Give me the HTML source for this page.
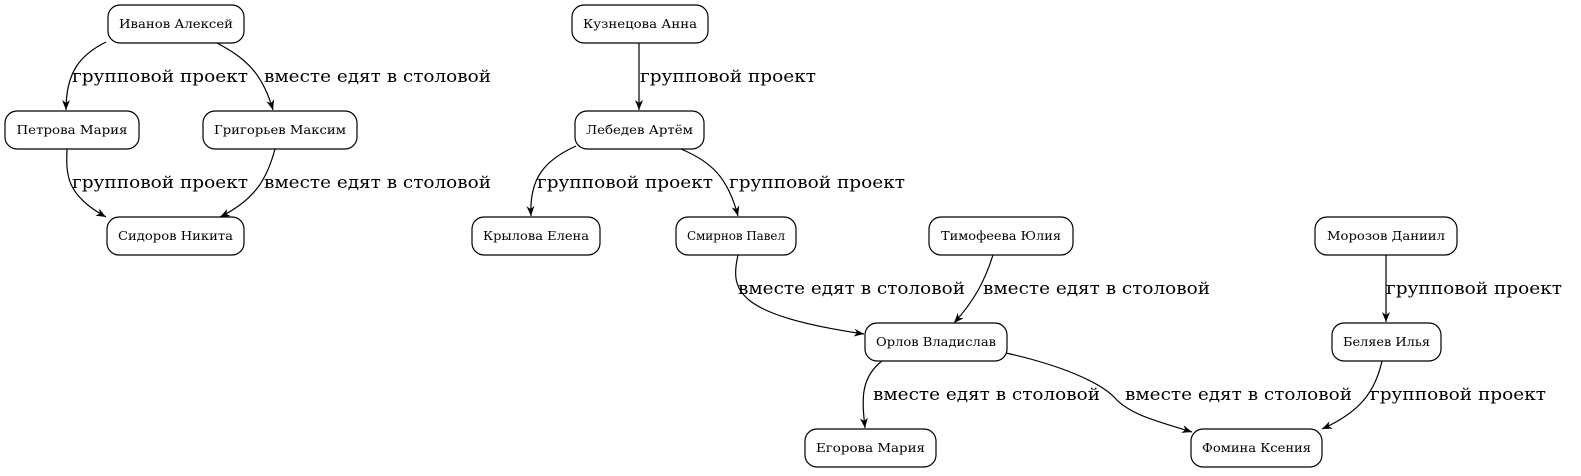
<!DOCTYPE html>
<html><head><meta charset="utf-8"><style>
html,body{margin:0;padding:0;background:#fff;overflow:hidden;width:1581px;height:476px;}
svg{display:block;}
.n{fill:#fff;stroke:#000;stroke-width:1.2;}
.nt{font-family:"DejaVu Serif","Liberation Serif",serif;font-size:12px;text-anchor:middle;}
.e{fill:none;stroke:#000;stroke-width:1.2;}
.l{font-family:"DejaVu Serif","Liberation Serif",serif;font-size:17px;}
</style></head><body>
<svg width="1581" height="476" viewBox="0 0 1581 476" xmlns="http://www.w3.org/2000/svg">
<defs>
<marker id="a" markerWidth="12" markerHeight="10" refX="10" refY="4" orient="auto" markerUnits="userSpaceOnUse">
<path d="M0,0 L10,4 L0,8 L3,4 z" fill="#000"/>
</marker>
</defs>
<path class="e" marker-end="url(#a)" d="M106,42 C80,55 66,72 66,110"/>
<path class="e" marker-end="url(#a)" d="M217,43 C245,58 262,72 273,110"/>
<path class="e" marker-end="url(#a)" d="M67,149 C66,175 66,195 106,217"/>
<path class="e" marker-end="url(#a)" d="M275,149 C268,175 258,198 220,217"/>
<path class="e" marker-end="url(#a)" d="M639,43 L639,110"/>
<path class="e" marker-end="url(#a)" d="M576,146 C545,160 529,178 531,216"/>
<path class="e" marker-end="url(#a)" d="M681,149 C712,162 728,178 738,216"/>
<path class="e" marker-end="url(#a)" d="M738,255 C730,290 735,315 864,334"/>
<path class="e" marker-end="url(#a)" d="M993,255 C985,280 975,300 954,323"/>
<path class="e" marker-end="url(#a)" d="M1386,255 L1386,322"/>
<path class="e" marker-end="url(#a)" d="M882,361 C860,378 862,400 865,428"/>
<path class="e" marker-end="url(#a)" d="M1006,353 C1060,365 1100,382 1115,398 C1130,415 1160,422 1192,432"/>
<path class="e" marker-end="url(#a)" d="M1382,361 C1375,392 1360,412 1322,429"/>
<g class="l">
<text x="72" y="82" textLength="176" lengthAdjust="spacingAndGlyphs">групповой проект</text>
<text x="264" y="82" textLength="227" lengthAdjust="spacingAndGlyphs">вместе едят в столовой</text>
<text x="72" y="188" textLength="176" lengthAdjust="spacingAndGlyphs">групповой проект</text>
<text x="264" y="188" textLength="227" lengthAdjust="spacingAndGlyphs">вместе едят в столовой</text>
<text x="640" y="82" textLength="176" lengthAdjust="spacingAndGlyphs">групповой проект</text>
<text x="537" y="188" textLength="176" lengthAdjust="spacingAndGlyphs">групповой проект</text>
<text x="729" y="188" textLength="176" lengthAdjust="spacingAndGlyphs">групповой проект</text>
<text x="738" y="294" textLength="227" lengthAdjust="spacingAndGlyphs">вместе едят в столовой</text>
<text x="983" y="294" textLength="227" lengthAdjust="spacingAndGlyphs">вместе едят в столовой</text>
<text x="1386" y="294" textLength="176" lengthAdjust="spacingAndGlyphs">групповой проект</text>
<text x="873" y="400" textLength="227" lengthAdjust="spacingAndGlyphs">вместе едят в столовой</text>
<text x="1125" y="400" textLength="227" lengthAdjust="spacingAndGlyphs">вместе едят в столовой</text>
<text x="1370" y="400" textLength="176" lengthAdjust="spacingAndGlyphs">групповой проект</text>
</g>
<rect class="n" x="108" y="5" width="136" height="38" rx="12"/><text class="nt" x="176" y="28" textLength="114" lengthAdjust="spacingAndGlyphs">Иванов Алексей</text>
<rect class="n" x="5" y="111" width="134" height="38" rx="12"/><text class="nt" x="72" y="134" textLength="111" lengthAdjust="spacingAndGlyphs">Петрова Мария</text>
<rect class="n" x="203" y="111" width="154" height="38" rx="12"/><text class="nt" x="280" y="134" textLength="132" lengthAdjust="spacingAndGlyphs">Григорьев Максим</text>
<rect class="n" x="107" y="217" width="137" height="38" rx="12"/><text class="nt" x="175.5" y="240" textLength="115" lengthAdjust="spacingAndGlyphs">Сидоров Никита</text>
<rect class="n" x="572" y="5" width="136" height="38" rx="12"/><text class="nt" x="640" y="28" textLength="114" lengthAdjust="spacingAndGlyphs">Кузнецова Анна</text>
<rect class="n" x="575" y="111" width="129" height="38" rx="12"/><text class="nt" x="639.5" y="134" textLength="107" lengthAdjust="spacingAndGlyphs">Лебедев Артём</text>
<rect class="n" x="472" y="217" width="128" height="38" rx="12"/><text class="nt" x="536" y="240" textLength="106" lengthAdjust="spacingAndGlyphs">Крылова Елена</text>
<rect class="n" x="676" y="217" width="120" height="38" rx="12"/><text class="nt" x="736" y="240" textLength="98" lengthAdjust="spacingAndGlyphs">Смирнов Павел</text>
<rect class="n" x="929" y="217" width="144" height="38" rx="12"/><text class="nt" x="1001" y="240" textLength="120" lengthAdjust="spacingAndGlyphs">Тимофеева Юлия</text>
<rect class="n" x="1315" y="217" width="142" height="38" rx="12"/><text class="nt" x="1386" y="240" textLength="118" lengthAdjust="spacingAndGlyphs">Морозов Даниил</text>
<rect class="n" x="865" y="323" width="142" height="38" rx="12"/><text class="nt" x="936" y="346" textLength="120" lengthAdjust="spacingAndGlyphs">Орлов Владислав</text>
<rect class="n" x="1332" y="323" width="109" height="38" rx="12"/><text class="nt" x="1386.5" y="346" textLength="87" lengthAdjust="spacingAndGlyphs">Беляев Илья</text>
<rect class="n" x="805" y="429" width="131" height="38" rx="12"/><text class="nt" x="870.5" y="452" textLength="109" lengthAdjust="spacingAndGlyphs">Егорова Мария</text>
<rect class="n" x="1191" y="429" width="131" height="38" rx="12"/><text class="nt" x="1256.5" y="452" textLength="109" lengthAdjust="spacingAndGlyphs">Фомина Ксения</text>
</svg>
</body></html>
